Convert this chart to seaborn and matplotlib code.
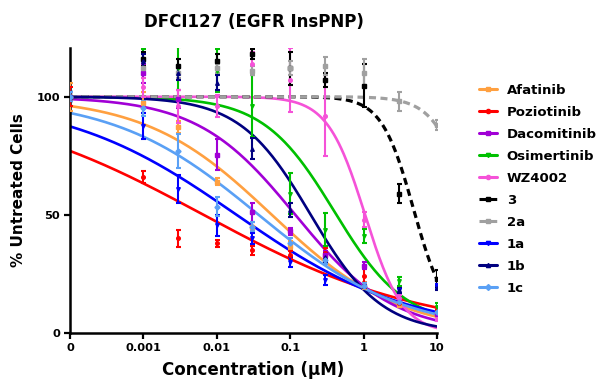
import numpy as np
import pandas as pd
import matplotlib
matplotlib.use("Agg")
import matplotlib.pyplot as plt
from matplotlib.lines import Line2D
import seaborn as sns

# ---------------- data ----------------
drugs = ["Afatinib", "Poziotinib", "Dacomitinib", "Osimertinib", "WZ4002",
         "3", "2a", "1a", "1b", "1c"]
colors = ["#FFA040", "#FF0000", "#A100D6", "#00C000", "#F552D8",
          "#000000", "#A0A0A0", "#0000FF", "#000080", "#5AA0F5"]
markers = ["s", "o", "s", "v", "o", "s", "s", "v", "^", "D"]
dashed = [False, False, False, False, False, True, True, False, False, False]

conc = [0, 0.001, 0.003, 0.01, 0.03, 0.1, 0.3, 1, 3, 10]
tick_conc = [1e-4, 1e-3, 1e-2, 1e-1, 1, 10]
tick_labels = ["0", "0.001", "0.01", "0.1", "1", "10"]
y_ticks = [0, 50, 100]

mean_afatinib = [100, 97.5, 87, 64, 45, 37, 33, 20, 12, 8]
sd_afatinib = [6, 4.5, 2.5, 1.5, 2, 2, 1.5, 1.5, 1, 1]
mean_poziotinib = [100, 66, 40, 38, 35, 33, 34, 24, 12.5, 10]
sd_poziotinib = [4, 2.5, 3.5, 1.5, 2, 1.5, 2, 3, 1, 1]
mean_dacomitinib = [100, 110, 99, 75.5, 51, 43, 33, 28.5, 14, 8]
sd_dacomitinib = [2, 4, 4, 6.5, 4, 1.5, 1.5, 1.5, 1, 1]
mean_osimertinib = [100, 115, 112, 111, 96, 59, 43.7, 41, 21.8, 11]
sd_osimertinib = [2, 5, 9, 9, 13, 8.5, 7, 3, 2, 1.5]
mean_wz4002 = [100, 104, 96, 96, 114, 107, 92, 48, 15, 6]
sd_wz4002 = [2, 4, 7, 4.5, 5, 13.5, 17, 3, 1, 1]
mean_3 = [100, 116, 113, 115, 118, 112, 107, 104.7, 59, 23]
sd_3 = [2, 3, 3, 3, 2, 7, 3, 9, 4, 3.5]
mean_2a = [100, 112, 110, 112, 111, 112, 113, 110, 98, 88]
sd_2a = [2, 3, 2, 2, 2, 3, 4, 6, 4, 2]
mean_1a = [100, 87.5, 61, 45.5, 40, 30, 22.5, 20, 18, 19.6]
sd_1a = [2, 5.5, 6, 4.5, 2.5, 2, 2, 1, 1, 1]
mean_1b = [100, 115, 110, 106, 78, 52, 32, 20, 18, 19]
sd_1b = [2, 3, 3, 3, 4.5, 3, 2, 1, 1, 1]
mean_1c = [100, 95, 77, 53.5, 45, 38, 31, 20, 13, 9]
sd_1c = [2, 3, 7, 4, 2, 2, 2, 1, 1, 1]

means = [mean_afatinib, mean_poziotinib, mean_dacomitinib, mean_osimertinib,
         mean_wz4002, mean_3, mean_2a, mean_1a, mean_1b, mean_1c]
sds = [sd_afatinib, sd_poziotinib, sd_dacomitinib, sd_osimertinib,
       sd_wz4002, sd_3, sd_2a, sd_1a, sd_1b, sd_1c]

# fitted 4-parameter logistic curve parameters
fit_top = [100, 100, 100, 100, 100, 100, 100, 100, 100, 100]
fit_bottom = [0, 0, 0, 3, 0, 5, 0, 0, 0, 0]
fit_logic50 = [-1.25, -2.18, -0.93, -0.40, 0.02, 0.68, 1.475, -1.73, -0.72, -1.43]
fit_hill = [0.504, 0.289, 0.65, 0.9, 1.7, 2.0, 1.77, 0.371, 0.9, 0.44]

# ---------------- style ----------------
sns.set_style("ticks")
plt.rcParams["font.family"] = ["DejaVu Sans"]
plt.rcParams["font.weight"] = "bold"
for key in ["text.color", "axes.labelcolor", "xtick.color", "ytick.color",
            "axes.edgecolor"]:
    plt.rcParams[key] = "black"

fig = plt.figure(figsize=(6.02, 3.83), dpi=100)
ax = fig.add_axes([70 / 602, 50 / 383, 367 / 602, 285 / 383])

zero_pos = tick_conc[0]
xgrid = np.logspace(np.log10(zero_pos), 1, 300)

rows = []
for i, d in enumerate(drugs):
    yv = fit_bottom[i] + (fit_top[i] - fit_bottom[i]) / (
        1 + 10 ** (fit_hill[i] * (np.log10(xgrid) - fit_logic50[i])))
    rows.append(pd.DataFrame({"conc": xgrid, "resp": yv, "drug": d}))
curves = pd.concat(rows, ignore_index=True)

for i, d in enumerate(drugs):
    sub = curves[curves["drug"] == d]
    sns.lineplot(data=sub, x="conc", y="resp", color=colors[i], linewidth=1.9,
                 ax=ax, legend=False)
    if dashed[i]:
        ax.lines[-1].set_dashes((2.2, 1.4))
        ax.lines[-1].set_linewidth(2.3)

xpos = [c if c > 0 else zero_pos for c in conc]
for i, d in enumerate(drugs):
    ax.errorbar(xpos, means[i], yerr=sds[i], fmt=markers[i], color=colors[i],
                ms=2.6, elinewidth=1.5, capsize=1.8, capthick=1.5, zorder=3)

ax.set_xscale("log")
ax.set_xlim(1e-4, 10)
ax.set_ylim(0, 120.6)
ax.set_xticks(tick_conc)
ax.set_xticklabels(tick_labels)
ax.minorticks_off()
ax.set_yticks(y_ticks)
ax.set_yticklabels([str(v) for v in y_ticks])

for s in ["top", "right"]:
    ax.spines[s].set_visible(False)
for s in ["left", "bottom"]:
    ax.spines[s].set_linewidth(1.8)
    ax.spines[s].set_color("black")
ax.tick_params(axis="both", length=4, width=1.6, labelsize=8.2, pad=3,
               colors="black")
for lab in ax.get_xticklabels() + ax.get_yticklabels():
    lab.set_fontweight("bold")

ax.set_xlabel("Concentration (µM)", fontsize=12, fontweight="bold", labelpad=6,
              color="black")
ax.set_ylabel("% Untreated Cells", fontsize=11, fontweight="bold", labelpad=8,
              color="black")
ax.set_title("DFCI127 (EGFR InsPNP)", fontsize=12, fontweight="bold", pad=15,
             color="black")

handles = []
for i, d in enumerate(drugs):
    h = Line2D([0], [0], color=colors[i], lw=2.2, marker=markers[i], ms=3.0,
               linestyle=(0, (2.2, 1.4)) if dashed[i] else "-")
    handles.append(h)
fig.legend(handles, drugs, loc="upper left", bbox_to_anchor=(479 / 602, 1 - 84 / 383),
           frameon=False, borderpad=0, borderaxespad=0, handlelength=1.4,
           handletextpad=0.7, labelspacing=0.68,
           prop={"weight": "bold", "size": 9.5})

fig.savefig("out.png", dpi=100)
